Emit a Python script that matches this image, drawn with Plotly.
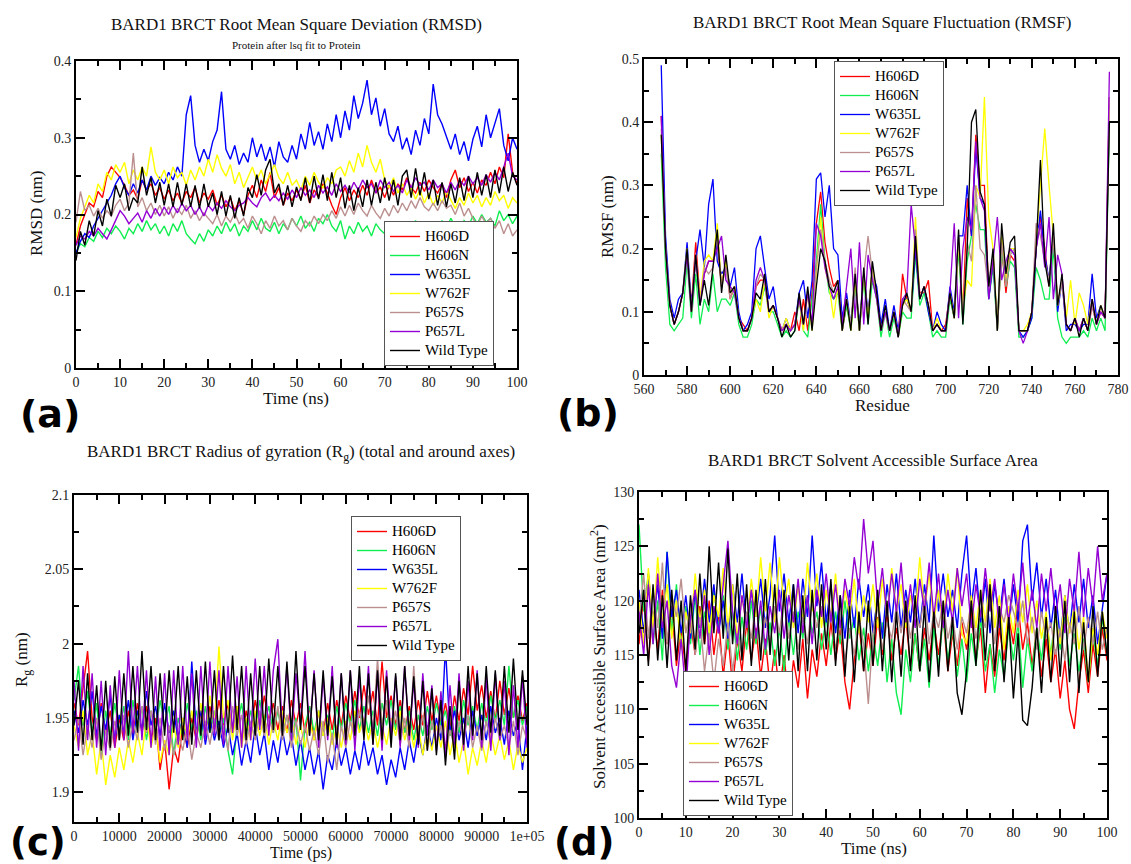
import plotly.graph_objects as go
import numpy as np

W, H = 1131, 864

SERIES = ["H606D", "H606N", "W635L", "W762F", "P657S", "P657L", "Wild Type"]
COLORS = ["#ff0000", "#10ee50", "#0000ff", "#ffff00", "#bc8f8f", "#9400d3", "#000000"]

# ---------------- (a) RMSD (nm) vs time (ns), 0..100 ----------------
rmsd_h606d = [0.160, 0.185, 0.200, 0.215, 0.210, 0.230, 0.222, 0.250, 0.262, 0.255, 0.248, 0.238, 0.225, 0.232, 0.220, 0.245, 0.232, 0.240, 0.225, 0.235,
              0.220, 0.232, 0.218, 0.228, 0.215, 0.230, 0.222, 0.235, 0.215, 0.228, 0.220, 0.232, 0.212, 0.225, 0.210, 0.222, 0.205, 0.218, 0.200, 0.225,
              0.238, 0.222, 0.245, 0.230, 0.255, 0.222, 0.235, 0.212, 0.228, 0.218, 0.232, 0.220, 0.238, 0.215, 0.232, 0.222, 0.240, 0.228, 0.212, 0.200,
              0.222, 0.235, 0.218, 0.232, 0.222, 0.238, 0.225, 0.245, 0.228, 0.236, 0.222, 0.238, 0.225, 0.240, 0.232, 0.248, 0.235, 0.228, 0.242, 0.230,
              0.245, 0.235, 0.228, 0.240, 0.222, 0.245, 0.258, 0.235, 0.248, 0.230, 0.242, 0.228, 0.245, 0.238, 0.255, 0.240, 0.262, 0.248, 0.305, 0.255, 0.240]
rmsd_h606n = [0.150, 0.162, 0.158, 0.170, 0.165, 0.178, 0.170, 0.182, 0.175, 0.185, 0.178, 0.168, 0.182, 0.175, 0.188, 0.178, 0.192, 0.180, 0.188, 0.175,
              0.185, 0.172, 0.188, 0.178, 0.192, 0.175, 0.168, 0.162, 0.175, 0.165, 0.180, 0.172, 0.185, 0.175, 0.190, 0.178, 0.188, 0.172, 0.185, 0.178,
              0.192, 0.180, 0.195, 0.182, 0.178, 0.190, 0.175, 0.188, 0.180, 0.195, 0.185, 0.198, 0.182, 0.190, 0.178, 0.195, 0.188, 0.200, 0.185, 0.178,
              0.192, 0.168, 0.185, 0.175, 0.190, 0.178, 0.185, 0.172, 0.188, 0.180, 0.175, 0.190, 0.178, 0.185, 0.172, 0.188, 0.180, 0.192, 0.178, 0.186,
              0.175, 0.188, 0.180, 0.192, 0.182, 0.195, 0.185, 0.178, 0.192, 0.185, 0.198, 0.188, 0.200, 0.190, 0.195, 0.185, 0.205, 0.192, 0.200, 0.188, 0.198]
rmsd_w635l = [0.150, 0.165, 0.175, 0.170, 0.185, 0.195, 0.205, 0.215, 0.225, 0.240, 0.250, 0.235, 0.225, 0.240, 0.228, 0.245, 0.232, 0.250, 0.238, 0.248,
              0.240, 0.255, 0.245, 0.262, 0.250, 0.330, 0.355, 0.290, 0.268, 0.285, 0.270, 0.295, 0.310, 0.360, 0.285, 0.272, 0.290, 0.265, 0.280, 0.268,
              0.300, 0.275, 0.292, 0.270, 0.288, 0.262, 0.295, 0.275, 0.268, 0.290, 0.272, 0.305, 0.285, 0.320, 0.290, 0.308, 0.285, 0.318, 0.295, 0.330,
              0.300, 0.335, 0.310, 0.355, 0.325, 0.345, 0.375, 0.330, 0.352, 0.315, 0.338, 0.305, 0.295, 0.315, 0.285, 0.300, 0.278, 0.310, 0.290, 0.325,
              0.305, 0.370, 0.330, 0.318, 0.300, 0.285, 0.305, 0.278, 0.295, 0.270, 0.298, 0.315, 0.288, 0.330, 0.300, 0.318, 0.338, 0.290, 0.270, 0.300, 0.285]
rmsd_w762f = [0.170, 0.195, 0.210, 0.225, 0.215, 0.240, 0.230, 0.255, 0.245, 0.265, 0.255, 0.268, 0.240, 0.258, 0.245, 0.262, 0.250, 0.288, 0.255, 0.245,
              0.258, 0.240, 0.262, 0.248, 0.255, 0.238, 0.258, 0.245, 0.262, 0.250, 0.272, 0.255, 0.278, 0.260, 0.250, 0.265, 0.240, 0.255, 0.235, 0.248,
              0.262, 0.245, 0.258, 0.240, 0.252, 0.265, 0.248, 0.240, 0.255, 0.238, 0.245, 0.232, 0.250, 0.238, 0.255, 0.242, 0.235, 0.248, 0.240, 0.258,
              0.262, 0.250, 0.270, 0.255, 0.280, 0.262, 0.290, 0.268, 0.255, 0.272, 0.245, 0.235, 0.248, 0.228, 0.240, 0.225, 0.235, 0.220, 0.232, 0.215,
              0.228, 0.212, 0.225, 0.215, 0.230, 0.218, 0.208, 0.222, 0.212, 0.228, 0.215, 0.225, 0.210, 0.222, 0.212, 0.230, 0.218, 0.225, 0.208, 0.222, 0.215]
rmsd_p657s = [0.190, 0.230, 0.205, 0.212, 0.198, 0.208, 0.195, 0.205, 0.198, 0.212, 0.220, 0.205, 0.215, 0.280, 0.210, 0.222, 0.205, 0.215, 0.200, 0.212,
              0.198, 0.210, 0.195, 0.208, 0.200, 0.212, 0.195, 0.205, 0.192, 0.202, 0.195, 0.188, 0.200, 0.185, 0.198, 0.190, 0.202, 0.188, 0.195, 0.182,
              0.198, 0.188, 0.175, 0.192, 0.182, 0.198, 0.185, 0.192, 0.180, 0.195, 0.185, 0.178, 0.192, 0.185, 0.198, 0.188, 0.200, 0.192, 0.205, 0.195,
              0.210, 0.198, 0.212, 0.200, 0.215, 0.205, 0.198, 0.212, 0.202, 0.195, 0.208, 0.198, 0.212, 0.202, 0.215, 0.205, 0.218, 0.208, 0.222, 0.210,
              0.205, 0.215, 0.205, 0.218, 0.208, 0.212, 0.200, 0.215, 0.198, 0.208, 0.195, 0.185, 0.198, 0.188, 0.195, 0.182, 0.192, 0.175, 0.188, 0.172, 0.180]
rmsd_p657l = [0.160, 0.172, 0.168, 0.178, 0.172, 0.182, 0.175, 0.168, 0.180, 0.192, 0.205, 0.198, 0.188, 0.195, 0.202, 0.190, 0.205, 0.195, 0.208, 0.198,
              0.210, 0.200, 0.212, 0.202, 0.215, 0.205, 0.212, 0.200, 0.210, 0.198, 0.212, 0.205, 0.215, 0.208, 0.218, 0.210, 0.205, 0.212, 0.215, 0.222,
              0.215, 0.210, 0.222, 0.228, 0.218, 0.225, 0.218, 0.228, 0.220, 0.232, 0.222, 0.235, 0.225, 0.232, 0.222, 0.238, 0.228, 0.236, 0.225, 0.240,
              0.230, 0.238, 0.228, 0.242, 0.232, 0.245, 0.235, 0.240, 0.228, 0.245, 0.235, 0.242, 0.230, 0.238, 0.228, 0.245, 0.235, 0.248, 0.238, 0.242,
              0.232, 0.245, 0.235, 0.240, 0.228, 0.242, 0.232, 0.245, 0.238, 0.250, 0.240, 0.248, 0.238, 0.252, 0.242, 0.255, 0.245, 0.262, 0.280, 0.250, 0.245]
rmsd_wt = [0.140, 0.178, 0.160, 0.192, 0.172, 0.205, 0.185, 0.220, 0.198, 0.238, 0.222, 0.240, 0.205, 0.222, 0.215, 0.262, 0.225, 0.248, 0.215, 0.242,
           0.212, 0.240, 0.210, 0.242, 0.212, 0.240, 0.210, 0.238, 0.208, 0.240, 0.210, 0.228, 0.200, 0.230, 0.198, 0.225, 0.195, 0.222, 0.198, 0.235,
           0.222, 0.252, 0.225, 0.258, 0.272, 0.228, 0.240, 0.212, 0.238, 0.210, 0.236, 0.218, 0.248, 0.215, 0.250, 0.220, 0.252, 0.218, 0.255, 0.222,
           0.248, 0.208, 0.238, 0.205, 0.235, 0.210, 0.245, 0.212, 0.242, 0.215, 0.248, 0.218, 0.245, 0.212, 0.250, 0.258, 0.222, 0.260, 0.225, 0.255,
           0.220, 0.245, 0.212, 0.242, 0.210, 0.240, 0.215, 0.248, 0.218, 0.250, 0.222, 0.255, 0.225, 0.252, 0.222, 0.258, 0.228, 0.262, 0.230, 0.255, 0.238]

# ---------------- (b) RMSF (nm) vs residue (568..776, every 2nd residue) ----------------
rmsf_h606d = [.41, .20, .11, .08, .10, .13, .19, .11, .21, .12, .16, .18, .18, .21, .14, .18, .12, .14, .09, .08,
              .07, .09, .14, .15, .15, .10, .11, .09, .07, .08, .07, .10, .07, .12, .07, .13, .24, .29, .21, .17,
              .14, .15, .07, .11, .08, .15, .07, .16, .09, .17, .13, .07, .10, .07, .10, .06, .16, .12, .10, .21,
              .13, .13, .15, .07, .08, .07, .08, .13, .09, .21, .09, .28, .22, .38, .30, .30, .13, .19, .07, .20,
              .13, .19, .18, .07, .07, .07, .10, .20, .25, .20, .14, .22, .11, .15, .08, .07, .09, .07, .09, .07,
              .11, .08, .10, .09, .44]
rmsf_h606n = [.35, .17, .08, .07, .08, .09, .18, .09, .16, .08, .12, .10, .16, .10, .12, .12, .11, .13, .08, .06,
              .06, .08, .12, .11, .14, .10, .10, .08, .06, .07, .06, .07, .12, .07, .06, .12, .18, .27, .18, .13,
              .12, .13, .07, .11, .07, .14, .07, .15, .08, .15, .12, .06, .10, .06, .09, .06, .10, .09, .09, .19,
              .11, .13, .10, .06, .07, .06, .06, .12, .09, .20, .08, .18, .22, .27, .23, .23, .12, .17, .07, .20,
              .14, .18, .17, .06, .06, .07, .09, .17, .15, .12, .12, .20, .09, .06, .05, .06, .06, .06, .07, .06,
              .09, .07, .09, .07, .40]
rmsf_w635l = [.49, .22, .12, .09, .12, .13, .21, .11, .18, .23, .17, .27, .31, .18, .16, .17, .14, .17, .10, .07,
              .08, .10, .20, .22, .17, .12, .14, .09, .07, .09, .07, .08, .13, .15, .09, .15, .31, .32, .25, .30,
              .20, .19, .09, .13, .08, .15, .08, .16, .10, .16, .14, .08, .12, .07, .11, .07, .12, .12, .10, .20,
              .12, .14, .10, .07, .10, .08, .07, .14, .10, .22, .22, .30, .22, .36, .28, .27, .12, .18, .08, .22,
              .15, .20, .19, .07, .06, .07, .09, .20, .26, .19, .15, .22, .10, .15, .07, .08, .08, .07, .08, .08,
              .16, .09, .11, .09, .42]
rmsf_w762f = [.38, .20, .11, .08, .10, .13, .20, .10, .19, .12, .18, .19, .18, .24, .14, .18, .13, .14, .09, .07,
              .07, .09, .12, .10, .15, .09, .11, .09, .07, .09, .07, .08, .12, .07, .13, .07, .16, .25, .17, .14,
              .09, .14, .07, .12, .07, .15, .07, .16, .09, .17, .12, .07, .10, .07, .10, .06, .11, .12, .10, .25,
              .12, .14, .11, .07, .09, .07, .07, .13, .09, .21, .11, .15, .14, .30, .28, .44, .25, .20, .08, .22,
              .15, .20, .20, .07, .07, .08, .10, .21, .30, .39, .30, .22, .11, .15, .09, .15, .08, .13, .11, .08,
              .12, .08, .11, .09, .42]
rmsf_p657s = [.39, .20, .11, .08, .10, .13, .19, .10, .19, .11, .17, .16, .17, .22, .14, .17, .12, .14, .09, .07,
              .07, .09, .14, .16, .15, .10, .11, .09, .07, .08, .07, .08, .12, .08, .13, .08, .17, .23, .18, .15,
              .13, .15, .07, .12, .08, .17, .07, .16, .22, .16, .12, .07, .10, .07, .10, .06, .12, .11, .10, .23,
              .12, .14, .11, .07, .08, .07, .07, .13, .09, .22, .09, .21, .18, .30, .20, .19, .13, .19, .07, .21,
              .14, .19, .20, .07, .07, .07, .10, .24, .22, .18, .15, .22, .11, .15, .08, .07, .09, .07, .09, .07,
              .11, .08, .10, .09, .44]
rmsf_p657l = [.41, .20, .11, .08, .10, .13, .19, .10, .19, .11, .16, .18, .18, .20, .22, .15, .14, .13, .09, .07,
              .07, .09, .15, .17, .15, .10, .11, .09, .07, .08, .07, .08, .12, .08, .13, .08, .24, .22, .17, .14,
              .12, .14, .08, .14, .20, .09, .21, .08, .19, .15, .12, .07, .10, .07, .10, .06, .12, .13, .27, .20,
              .12, .14, .11, .07, .08, .07, .07, .13, .24, .09, .20, .25, .23, .37, .28, .26, .12, .18, .25, .15,
              .18, .20, .19, .07, .05, .07, .10, .20, .24, .17, .25, .12, .19, .16, .08, .07, .09, .07, .09, .07,
              .12, .08, .10, .09, .48]
rmsf_wt = [.38, .20, .11, .08, .10, .13, .20, .10, .19, .11, .15, .11, .17, .23, .13, .19, .13, .14, .09, .07,
           .07, .09, .13, .12, .16, .10, .11, .09, .06, .08, .06, .07, .13, .08, .14, .07, .14, .20, .18, .14,
           .13, .15, .07, .12, .07, .16, .07, .17, .08, .18, .13, .07, .11, .07, .10, .06, .11, .13, .10, .22,
           .12, .14, .11, .07, .08, .07, .07, .13, .09, .23, .08, .20, .40, .42, .29, .27, .14, .20, .07, .24,
           .16, .21, .22, .07, .07, .07, .10, .20, .34, .18, .14, .24, .11, .16, .08, .07, .09, .06, .09, .07,
           .12, .08, .11, .09, .40]

# ---------------- (c) Rg (nm) vs time (ps), 0..1e5 ----------------
rg_h606d = [1.960, 1.945, 1.970, 1.995, 1.950, 1.935, 1.960, 1.940, 1.955, 1.930, 1.950, 1.935, 1.955, 1.938, 1.960, 1.940, 1.958, 1.935, 1.950, 1.915,
            1.935, 1.902, 1.930, 1.920, 1.945, 1.930, 1.950, 1.935, 1.955, 1.940, 1.958, 1.942, 1.962, 1.945, 1.960, 1.940, 1.958, 1.935, 1.955, 1.940,
            1.962, 1.945, 1.965, 1.948, 1.960, 1.942, 1.958, 1.940, 1.962, 1.945, 1.960, 1.940, 1.958, 1.935, 1.955, 1.938, 1.960, 1.942, 1.962, 1.945,
            1.965, 1.948, 1.968, 1.950, 1.972, 1.952, 1.968, 1.945, 1.988, 1.950, 1.965, 1.945, 1.962, 1.940, 1.958, 1.942, 1.962, 1.945, 1.968, 1.948,
            1.965, 1.945, 1.960, 1.942, 1.965, 1.948, 1.970, 1.952, 1.985, 1.955, 1.972, 1.950, 1.968, 1.948, 1.975, 1.952, 1.970, 1.950, 1.965, 1.948, 1.960]
rg_h606n = [1.962, 1.985, 1.945, 1.968, 1.940, 1.960, 1.925, 1.955, 1.938, 1.960, 1.940, 1.958, 1.935, 1.962, 1.942, 1.958, 1.935, 1.955, 1.940, 1.962,
            1.945, 1.958, 1.925, 1.950, 1.938, 1.960, 1.942, 1.955, 1.935, 1.958, 1.940, 1.955, 1.935, 1.950, 1.928, 1.912, 1.945, 1.960, 1.938, 1.955,
            1.942, 1.962, 1.945, 1.958, 1.940, 1.955, 1.938, 1.952, 1.935, 1.950, 1.908, 1.945, 1.958, 1.940, 1.955, 1.938, 1.952, 1.935, 1.958, 1.942,
            1.960, 1.945, 1.962, 1.942, 1.958, 1.940, 1.955, 1.938, 1.960, 1.945, 1.962, 1.942, 1.958, 1.940, 1.955, 1.935, 1.952, 1.938, 1.958, 1.942,
            1.960, 1.945, 1.955, 1.938, 1.958, 1.940, 1.962, 1.945, 1.958, 1.942, 1.960, 1.945, 1.965, 1.948, 1.962, 1.945, 1.985, 1.950, 1.962, 1.945, 1.958]
rg_w635l = [1.955, 1.940, 1.962, 1.945, 1.968, 1.938, 1.958, 1.942, 1.965, 1.935, 1.952, 1.940, 1.962, 1.935, 1.955, 1.942, 1.968, 1.945, 1.958, 1.938,
            1.960, 1.940, 1.955, 1.935, 1.950, 1.930, 1.988, 1.940, 1.955, 1.932, 1.950, 1.935, 1.948, 1.930, 1.945, 1.925, 1.940, 1.918, 1.935, 1.920,
            1.945, 1.925, 1.940, 1.915, 1.935, 1.920, 1.942, 1.925, 1.938, 1.918, 1.935, 1.915, 1.930, 1.912, 1.928, 1.902, 1.925, 1.915, 1.935, 1.918,
            1.930, 1.912, 1.928, 1.915, 1.935, 1.918, 1.930, 1.912, 1.925, 1.905, 1.922, 1.910, 1.930, 1.915, 1.935, 1.920, 1.940, 1.925, 1.945, 1.930,
            1.950, 1.935, 1.998, 1.940, 1.955, 1.935, 1.950, 1.930, 1.955, 1.938, 1.952, 1.935, 1.958, 1.940, 1.950, 1.932, 1.955, 1.938, 1.948, 1.915, 1.945]
rg_w762f = [1.945, 1.930, 1.955, 1.925, 1.940, 1.912, 1.935, 1.905, 1.925, 1.910, 1.930, 1.915, 1.935, 1.920, 1.940, 1.925, 1.950, 1.930, 1.945, 1.920,
            1.935, 1.925, 1.945, 1.930, 1.950, 1.935, 1.955, 1.938, 1.960, 1.942, 1.965, 1.945, 1.998, 1.950, 1.962, 1.935, 1.958, 1.930, 1.950, 1.935,
            1.955, 1.938, 1.952, 1.932, 1.948, 1.935, 1.955, 1.940, 1.950, 1.932, 1.945, 1.930, 1.948, 1.935, 1.955, 1.938, 1.950, 1.932, 1.945, 1.930,
            1.948, 1.935, 1.955, 1.940, 1.950, 1.935, 1.948, 1.930, 1.945, 1.932, 1.950, 1.938, 1.955, 1.935, 1.948, 1.930, 1.945, 1.925, 1.942, 1.928,
            1.945, 1.930, 1.948, 1.925, 1.940, 1.920, 1.935, 1.912, 1.930, 1.918, 1.935, 1.920, 1.940, 1.925, 1.938, 1.922, 1.935, 1.915, 1.932, 1.920, 1.930]
rg_p657s = [1.935, 1.950, 1.925, 1.945, 1.930, 1.950, 1.922, 1.942, 1.928, 1.948, 1.935, 1.952, 1.930, 1.948, 1.935, 1.958, 1.940, 1.955, 1.932, 1.950,
            1.928, 1.945, 1.925, 1.940, 1.928, 1.945, 1.922, 1.940, 1.930, 1.948, 1.932, 1.950, 1.935, 1.945, 1.928, 1.958, 1.938, 1.952, 1.932, 1.948,
            1.935, 1.955, 1.938, 1.950, 1.940, 1.958, 1.935, 1.952, 1.930, 1.948, 1.932, 1.945, 1.928, 1.942, 1.925, 1.948, 1.920, 1.940, 1.915, 1.945,
            1.930, 1.948, 1.935, 1.955, 1.938, 1.965, 1.942, 1.990, 1.945, 1.962, 1.938, 1.955, 1.932, 1.950, 1.930, 1.985, 1.935, 1.952, 1.928, 1.948,
            1.932, 1.945, 1.925, 1.942, 1.930, 1.948, 1.935, 1.952, 1.930, 1.945, 1.928, 1.948, 1.932, 1.950, 1.935, 1.945, 1.930, 1.948, 1.925, 1.945, 1.935]
rg_p657l = [1.975, 1.928, 1.985, 1.935, 1.980, 1.930, 1.975, 1.925, 1.972, 1.930, 1.982, 1.935, 1.995, 1.940, 1.985, 1.935, 1.982, 1.930, 1.978, 1.928,
            1.980, 1.925, 1.982, 1.932, 1.985, 1.935, 1.980, 1.930, 1.985, 1.935, 1.988, 1.938, 1.982, 1.932, 1.985, 1.940, 1.978, 1.930, 1.985, 1.935,
            1.990, 1.942, 1.985, 1.938, 1.982, 2.003, 1.940, 1.985, 1.935, 1.980, 1.945, 1.995, 1.938, 1.982, 1.930, 1.978, 1.935, 1.985, 1.930, 1.980,
            1.932, 1.982, 1.928, 1.978, 1.938, 1.985, 1.932, 1.980, 1.928, 1.982, 1.938, 1.978, 1.930, 1.985, 1.935, 1.975, 1.930, 1.980, 1.938, 1.972,
            1.928, 1.968, 1.925, 1.972, 1.932, 1.980, 1.928, 1.975, 1.935, 1.982, 1.930, 1.978, 1.928, 1.980, 1.935, 1.975, 1.925, 1.972, 1.930, 1.978, 1.930]
rg_wt = [1.945, 1.975, 1.932, 1.980, 1.935, 1.972, 1.928, 1.975, 1.930, 1.978, 1.935, 1.980, 1.938, 1.985, 1.940, 1.995, 1.942, 1.985, 1.935, 1.980,
         1.938, 1.982, 1.940, 1.985, 1.935, 1.978, 1.932, 1.982, 1.938, 1.988, 1.940, 1.982, 1.935, 1.985, 1.940, 1.992, 1.942, 1.985, 1.935, 1.980,
         1.938, 1.985, 1.940, 1.990, 1.942, 1.985, 1.938, 1.988, 1.940, 1.995, 1.942, 1.985, 1.938, 1.980, 1.935, 1.982, 1.938, 1.978, 1.932, 1.980,
         1.935, 1.982, 1.938, 1.985, 1.935, 1.980, 1.932, 1.982, 1.935, 1.978, 1.930, 1.980, 1.935, 1.985, 1.938, 1.978, 1.932, 1.975, 1.928, 1.970,
         1.925, 1.962, 1.918, 1.958, 1.922, 1.975, 1.932, 1.985, 1.938, 1.980, 1.935, 1.985, 1.940, 1.982, 1.938, 1.985, 1.940, 1.990, 1.942, 1.982, 1.945]

# ---------------- (d) SASA (nm^2) vs time (ns), 0..100 ----------------
sasa_h606d = [116.0, 120.5, 114.5, 119.0, 115.5, 121.0, 116.0, 119.5, 114.0, 117.5, 113.5, 118.0, 115.0, 119.5, 116.0, 120.0, 115.0, 118.5, 113.0, 117.0,
              112.0, 116.5, 113.5, 118.0, 114.5, 117.5, 113.0, 116.5, 112.0, 115.5, 111.5, 115.0, 110.5, 114.5, 112.0, 116.5, 111.0, 115.5, 113.0, 117.0,
              114.0, 118.0, 114.5, 117.5, 112.5, 110.0, 114.5, 118.0, 113.5, 117.0, 114.0, 118.5, 115.0, 119.0, 114.5, 117.5, 115.0, 118.5, 114.0, 117.0,
              113.5, 117.5, 114.5, 118.0, 115.0, 118.5, 113.5, 117.0, 114.0, 118.0, 115.5, 119.0, 114.5, 117.5, 111.5, 116.0, 113.0, 117.5, 114.5, 118.5,
              116.0, 119.5, 115.5, 118.0, 114.0, 117.5, 113.0, 116.5, 112.5, 115.5, 111.0, 114.5, 110.0, 108.2, 112.5, 115.5, 111.5, 116.0, 113.0, 117.5, 114.5]
sasa_h606n = [127.0, 119.0, 122.5, 116.0, 120.0, 114.5, 124.5, 117.0, 121.5, 115.5, 119.5, 116.0, 120.5, 115.0, 119.0, 116.5, 121.0, 117.5, 120.5, 115.5,
              119.0, 114.5, 118.5, 115.5, 120.0, 116.0, 119.5, 115.0, 118.0, 114.0, 117.5, 113.5, 118.5, 115.0, 119.0, 116.5, 120.5, 117.0, 119.0, 115.5,
              118.5, 115.0, 119.0, 116.0, 120.0, 116.5, 118.5, 114.5, 117.5, 113.5, 117.0, 114.0, 118.0, 112.5, 116.5, 111.5, 109.5, 115.5, 112.5, 117.0,
              113.5, 116.5, 112.0, 117.5, 114.0, 118.5, 114.5, 117.5, 113.0, 116.5, 112.5, 117.0, 114.0, 118.5, 113.5, 116.0, 111.5, 115.5, 113.0, 117.5,
              114.5, 118.0, 112.0, 116.5, 113.5, 117.5, 114.5, 118.5, 115.0, 119.0, 115.5, 118.5, 114.0, 117.0, 113.5, 116.5, 112.5, 117.0, 114.0, 118.5, 115.0]
sasa_w635l = [121.0, 117.0, 122.5, 118.0, 121.5, 116.5, 124.5, 118.5, 121.0, 117.0, 120.5, 116.5, 121.0, 117.5, 122.0, 118.0, 121.5, 117.0, 120.0, 116.5,
              121.5, 118.0, 122.5, 117.5, 121.0, 118.5, 122.0, 117.5, 120.5, 126.0, 119.0, 122.5, 118.0, 121.5, 117.0, 122.0, 118.5, 126.0, 119.5, 123.5,
              118.0, 121.5, 117.0, 120.5, 116.5, 121.0, 117.5, 122.0, 118.5, 121.5, 117.0, 120.5, 116.5, 121.5, 118.0, 122.5, 117.5, 121.0, 118.0, 122.0,
              117.5, 121.5, 118.0, 126.0, 119.0, 122.5, 118.5, 121.0, 117.5, 122.5, 126.0, 119.5, 123.0, 118.0, 122.0, 117.0, 121.5, 118.5, 122.0, 117.5,
              121.5, 118.0, 125.5, 127.0, 120.0, 123.5, 118.5, 122.0, 117.5, 121.0, 116.5, 120.5, 117.0, 121.5, 118.0, 122.0, 117.5, 120.5, 116.0, 119.5, 122.5]
sasa_w762f = [120.0, 116.0, 123.0, 117.5, 124.0, 118.0, 121.5, 116.5, 120.0, 115.5, 119.0, 117.0, 122.5, 118.0, 121.0, 117.0, 120.5, 118.5, 123.0, 117.5,
              121.5, 116.5, 120.5, 117.5, 122.0, 118.5, 124.0, 119.0, 123.5, 118.0, 124.0, 119.5, 122.0, 117.5, 121.5, 118.0, 123.5, 119.0, 122.5, 117.5,
              121.0, 118.5, 122.5, 117.5, 121.0, 118.5, 122.0, 117.0, 120.5, 118.0, 121.5, 117.5, 122.0, 118.5, 123.0, 119.0, 121.5, 117.5, 120.5, 118.5,
              124.0, 119.0, 122.5, 118.0, 121.0, 117.5, 122.5, 119.0, 123.0, 117.0, 116.0, 120.5, 117.5, 121.0, 118.0, 122.0, 117.5, 120.5, 115.5, 119.5,
              117.0, 121.0, 118.0, 121.5, 117.0, 120.0, 116.5, 119.0, 114.5, 118.5, 116.0, 120.5, 117.0, 119.5, 115.5, 118.5, 112.5, 117.5, 115.0, 119.0, 116.5]
sasa_p657s = [118.0, 122.5, 116.5, 121.0, 117.5, 123.5, 116.0, 120.5, 118.5, 122.0, 117.0, 119.5, 115.0, 118.5, 113.5, 117.0, 112.5, 116.5, 114.0, 118.0,
              113.5, 117.0, 115.0, 119.0, 116.5, 120.0, 115.5, 118.5, 116.0, 119.5, 117.0, 120.5, 116.5, 119.0, 115.5, 118.5, 116.0, 120.0, 117.5, 119.5,
              116.5, 119.0, 115.5, 118.0, 114.5, 117.5, 115.0, 118.5, 116.0, 110.5, 117.0, 119.5, 115.5, 118.0, 116.5, 119.5, 117.0, 120.0, 116.5, 119.0,
              117.5, 120.5, 116.0, 119.0, 117.5, 120.0, 116.5, 118.5, 115.5, 118.5, 117.0, 120.0, 116.5, 119.0, 117.5, 121.0, 116.0, 119.5, 118.0, 120.5,
              119.0, 117.5, 120.0, 116.0, 118.5, 115.5, 119.0, 116.5, 118.0, 115.0, 117.5, 114.5, 118.0, 116.0, 119.5, 115.5, 118.5, 116.0, 119.0, 115.5, 117.5]
sasa_p657l = [119.0, 115.0, 121.5, 116.0, 122.5, 117.5, 120.0, 114.0, 112.0, 116.5, 111.5, 118.5, 121.0, 116.5, 120.5, 115.0, 119.5, 117.0, 121.5, 125.5,
              119.0, 116.0, 120.5, 117.5, 121.0, 116.5, 120.0, 115.5, 119.5, 117.0, 121.0, 116.5, 120.5, 118.0, 122.0, 117.0, 120.5, 116.0, 121.0, 118.5,
              122.5, 118.0, 121.5, 117.5, 122.0, 119.5, 124.0, 121.0, 127.5, 122.5, 125.5, 119.5, 123.0, 118.5, 122.5, 119.0, 123.5, 118.0, 121.5, 117.5,
              122.0, 119.0, 123.5, 118.5, 122.5, 117.5, 121.0, 118.0, 123.0, 119.5, 122.5, 117.5, 121.5, 118.5, 123.0, 119.0, 122.0, 117.5, 121.5, 118.0,
              122.5, 119.0, 123.5, 118.0, 121.0, 117.5, 122.5, 119.0, 123.0, 118.5, 121.5, 117.0, 122.0, 119.0, 124.5, 118.5, 123.0, 119.5, 125.0, 120.0, 122.5]
sasa_wt = [117.0, 121.0, 114.0, 121.5, 114.5, 120.5, 113.8, 121.0, 114.5, 120.0, 113.5, 120.5, 115.5, 122.5, 116.0, 125.0, 117.0, 123.5, 116.5, 124.8,
           116.0, 122.5, 114.5, 121.5, 114.0, 121.0, 114.5, 122.0, 115.0, 121.5, 114.0, 121.0, 114.5, 121.5, 113.5, 120.5, 113.5, 121.0, 114.5, 121.5,
           115.5, 122.0, 114.0, 120.5, 113.0, 119.5, 112.5, 119.0, 113.5, 120.0, 114.0, 121.0, 113.5, 120.0, 112.5, 119.0, 113.0, 120.0, 113.5, 120.5,
           113.5, 119.5, 112.5, 119.0, 113.0, 120.0, 113.5, 118.5, 111.5, 109.5, 113.5, 120.0, 114.0, 121.0, 114.5, 121.5, 113.5, 119.5, 112.5, 118.5,
           111.0, 117.0, 109.0, 108.5, 112.0, 117.5, 111.5, 118.5, 112.5, 119.5, 113.0, 120.0, 112.5, 119.0, 111.5, 118.0, 112.5, 119.5, 113.0, 119.0, 115.0]

PANELS = [
    dict(kind="ns", data=[rmsd_h606d, rmsd_h606n, rmsd_w635l, rmsd_w762f, rmsd_p657s, rmsd_p657l, rmsd_wt]),
    dict(kind="res", data=[rmsf_h606d, rmsf_h606n, rmsf_w635l, rmsf_w762f, rmsf_p657s, rmsf_p657l, rmsf_wt]),
    dict(kind="ps", data=[rg_h606d, rg_h606n, rg_w635l, rg_w762f, rg_p657s, rg_p657l, rg_wt]),
    dict(kind="ns", data=[sasa_h606d, sasa_h606n, sasa_w635l, sasa_w762f, sasa_p657s, sasa_p657l, sasa_wt]),
]


def xs_for(kind, n):
    if kind == "ns":
        return np.linspace(0, 100, n)
    if kind == "ps":
        return np.linspace(0, 100000, n)
    return np.arange(568, 568 + 2 * n, 2)


SERIF = "Liberation Serif"
LEGEND_TEXT_PX = 15

fig = go.Figure()
legend_names = ["legend", "legend2", "legend3", "legend4"]
for p, panel in enumerate(PANELS):
    sfx = "" if p == 0 else str(p + 1)
    for name, color, vals in zip(SERIES, COLORS, panel["data"]):
        fig.add_trace(go.Scatter(
            x=xs_for(panel["kind"], len(vals)), y=vals, mode="lines",
            name="<span style='font-size:%dpx'>%s</span>" % (LEGEND_TEXT_PX, name),
            line=dict(color=color, width=1.4 if panel["kind"] != "res" else 1.3),
            xaxis="x" + sfx, yaxis="y" + sfx, legend=legend_names[p],
        ))


def dx(a, b):
    return [a / W, b / W]


def dy(top, bottom):
    return [1 - bottom / H, 1 - top / H]


TICKFONT = dict(family=SERIF, size=14, color="#222")


def axis(domain, rng, anchor, dtick, minor_dtick, tick0=None, tickvals=None, ticktext=None):
    d = dict(domain=domain, range=rng, anchor=anchor, showline=True, linewidth=2, linecolor="black",
             mirror="ticks", ticks="inside", ticklen=9, tickwidth=2, tickcolor="black",
             minor=dict(ticks="inside", ticklen=5, tickwidth=1.5, tickcolor="black", dtick=minor_dtick,
                        tick0=tick0 if tick0 is not None else rng[0], showgrid=False),
             showgrid=False, zeroline=False, tickfont=TICKFONT, fixedrange=True, automargin=False)
    if tickvals is not None:
        d.update(tickmode="array", tickvals=tickvals, ticktext=ticktext)
    else:
        d.update(dtick=dtick, tick0=tick0 if tick0 is not None else rng[0])
    return d


c_xvals = [0, 10000, 20000, 30000, 40000, 50000, 60000, 70000, 80000, 90000, 100000]
c_xtext = ["0", "10000", "20000", "30000", "40000", "50000", "60000", "70000", "80000", "90000", "1e+05"]
c_yvals = [1.9, 1.95, 2.0, 2.05, 2.1]
c_ytext = ["1.9", "1.95", "2", "2.05", "2.1"]

fig.update_layout(
    template="none",
    xaxis=axis(dx(76, 517), [0, 100], "y", 10, 5),
    yaxis=axis(dy(61, 368), [0, 0.4], "x", 0.1, 0.05),
    xaxis2=axis(dx(644, 1118), [560, 780], "y2", 20, 10),
    yaxis2=axis(dy(59, 375), [0, 0.5], "x2", 0.1, 0.05),
    xaxis3=axis(dx(74, 527), [0, 100000], "y3", None, 5000, tick0=0, tickvals=c_xvals, ticktext=c_xtext),
    yaxis3=axis(dy(495, 822), [1.88, 2.1], "x3", None, 0.025, tick0=1.9, tickvals=c_yvals, ticktext=c_ytext),
    xaxis4=axis(dx(639, 1107), [0, 100], "y4", 10, 5),
    yaxis4=axis(dy(492, 818), [100, 130], "x4", 5, 2.5),
)


def legend_at(left, ypix, anchor):
    return dict(x=left / W, y=1 - ypix / H, xanchor="left", yanchor=anchor, bgcolor="white",
                bordercolor="#555", borderwidth=1, font=dict(family=SERIF, size=11, color="black"),
                tracegroupgap=0, itemwidth=30, traceorder="normal")


fig.update_layout(
    legend=legend_at(384, 366, "bottom"),
    legend2=legend_at(834, 61, "top"),
    legend3=legend_at(351, 516, "top"),
    legend4=legend_at(683, 816, "bottom"),
)

ann = []


def text(x, y, s, size, family=SERIF, bold=False, angle=0, color="#111"):
    ann.append(dict(x=x / W, y=1 - y / H, xref="paper", yref="paper", text=("<b>%s</b>" % s) if bold else s,
                    showarrow=False, xanchor="center", yanchor="middle", textangle=angle,
                    font=dict(family=family, size=size, color=color)))


# titles
text(296, 24, "BARD1 BRCT Root Mean Square Deviation (RMSD)", 17)
text(296, 45, "Protein after lsq fit to Protein", 11)
text(882, 23, "BARD1 BRCT Root Mean Square Fluctuation (RMSF)", 17)
text(301, 453, "BARD1 BRCT Radius of gyration (R<sub>g</sub>) (total and around axes)", 17)
text(873, 461, "BARD1 BRCT Solvent Accessible Surface Area", 17)
# axis titles
text(296, 398, "Time (ns)", 17)
text(37, 214, "RMSD (nm)", 17, angle=-90)
text(882, 405, "Residue", 17)
text(607, 217, "RMSF (nm)", 17, angle=-90)
text(301, 853, "Time (ps)", 16)
text(23, 660, "R<sub>g</sub> (nm)", 17, angle=-90)
text(874, 848, "Time (ns)", 17)
text(598, 657, "Solvent Accessible Surface Area (nm<sup>2</sup>)", 17, angle=-90)
# panel letters
text(50, 414, "(a)", 38, family="DejaVu Sans", bold=True, color="black")
text(588, 413, "(b)", 38, family="DejaVu Sans", bold=True, color="black")
text(38, 842, "(c)", 37, family="DejaVu Sans", bold=True, color="black")
text(584, 842, "(d)", 37, family="DejaVu Sans", bold=True, color="black")

fig.update_layout(
    annotations=ann,
    width=W, height=H, autosize=False,
    margin=dict(l=0, r=0, t=0, b=0, pad=0),
    paper_bgcolor="white", plot_bgcolor="white",
    showlegend=True,
)

fig.write_html("out.html", include_plotlyjs=True, config={"displayModeBar": False},
               post_script="document.body.style.margin='0';document.body.style.overflow='hidden';")
